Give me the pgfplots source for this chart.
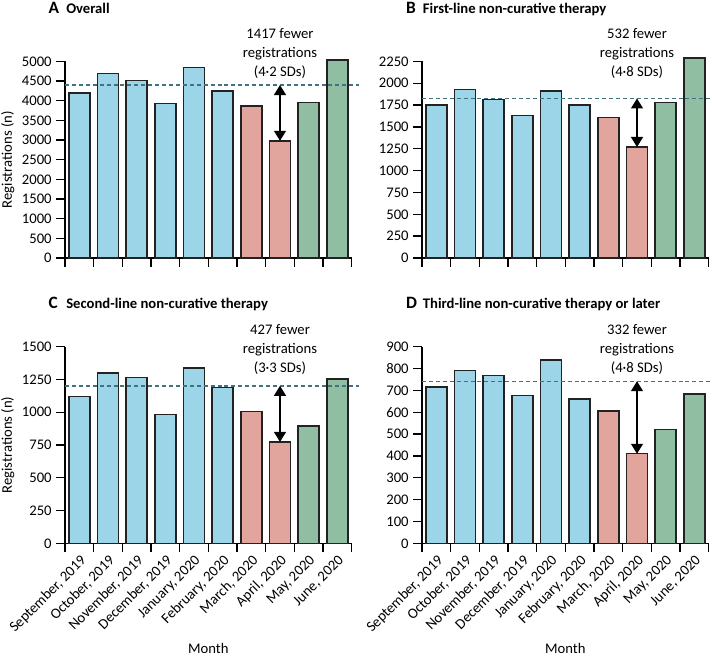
\documentclass[border=0pt]{standalone}
\usepackage{fontspec}
\setmainfont{Carlito}
\usepackage{pgfplots}
\pgfplotsset{compat=1.18}
\usetikzlibrary{arrows.meta}

\definecolor{barblue}{HTML}{9DD5E8}
\definecolor{barpink}{HTML}{E2A59E}
\definecolor{bargreen}{HTML}{90BEA2}
\definecolor{meanline}{HTML}{41727F}
\definecolor{edge}{HTML}{222222}

\tikzset{note/.style={align=center, font=\fontsize{11}{14.25}\selectfont}}

\pgfplotsset{
  panel/.style={
    scale only axis, width=215pt, height=147.5pt,
    anchor=south west,
    axis x line*=bottom, axis y line*=left,
    axis line style={-, line width=1pt, black},
    xmin=-0.5, xmax=9.5, ymin=0, enlargelimits=false, clip=false,
    xtick={-0.5,0.5,...,9.5}, x tick label as interval,
    tick align=outside, major tick length=6.5pt,
    tick style={black, line width=1pt},
    font=\fontsize{11}{13}\selectfont,
    /pgf/number format/assume math mode=true,
    /pgf/number format/1000 sep={},
    ylabel style={at={(axis description cs:-0.2,0.5)}, anchor=center},
  },
  months/.style={
    xticklabels={{September, 2019},{October, 2019},{November, 2019},{December, 2019},
      {January, 2020},{February, 2020},{March, 2020},{April, 2020},{May, 2020},{June, 2020}},
    xticklabel style={rotate=45, anchor=north east, inner sep=1pt},
    xlabel=Month,
    xlabel style={at={(axis description cs:0.5,-0.535)}, anchor=center},
  },
  nomonths/.style={xticklabels={}},
  monthbar/.style={ybar, bar width=0.73, bar shift=0pt, draw=edge, line width=1.1pt},
  mean/.style={meanline, line width=1pt, dash pattern=on 3pt off 2.2pt},
  gap/.style={line width=1pt, black, {Triangle[width=9pt,length=7.5pt]}-{Triangle[width=9pt,length=7.5pt]}},
}

\begin{document}
\begin{tikzpicture}
\path[use as bounding box] (0,0) rectangle (534pt,-492pt);

% A Overall
\begin{axis}[panel, nomonths, at={(48.75pt,-193.5pt)},
  ymax=5000, ytick={0,500,...,5000}, ylabel={Registrations (n)}]
\addplot[monthbar, fill=barblue] coordinates {(0,4190) (1,4690) (2,4510) (3,3930) (4,4840) (5,4250)};
\addplot[monthbar, fill=barpink] coordinates {(6,3860) (7,2980)};
\addplot[monthbar, fill=bargreen] coordinates {(8,3960) (9,5030)};
\addplot[mean] coordinates {(-0.5,4397) (9.75,4397)};
\addplot[gap] coordinates {(7,4397) (7,2980)};
\node[note] at (axis cs:7,5204) {1417 fewer\\registrations\\(4·2 SDs)};
\end{axis}

% B First-line
\begin{axis}[panel, nomonths, at={(316.5pt,-193.5pt)},
  ymax=2250, ytick={0,250,...,2250}]
\addplot[monthbar, fill=barblue] coordinates {(0,1750) (1,1925) (2,1815) (3,1630) (4,1910) (5,1750)};
\addplot[monthbar, fill=barpink] coordinates {(6,1610) (7,1270)};
\addplot[monthbar, fill=bargreen] coordinates {(8,1778) (9,2288)};
\addplot[mean] coordinates {(-0.5,1825) (9.7,1825)};
\addplot[gap] coordinates {(7,1825) (7,1270)};
\node[note] at (axis cs:7,2337) {532 fewer\\registrations\\(4·8 SDs)};
\end{axis}

% C Second-line
\begin{axis}[panel, months, at={(48.75pt,-407.5pt)},
  ymax=1500, ytick={0,250,...,1500}, ylabel={Registrations (n)}]
\addplot[monthbar, fill=barblue] coordinates {(0,1121) (1,1300) (2,1265) (3,984) (4,1338) (5,1189)};
\addplot[monthbar, fill=barpink] coordinates {(6,1004) (7,774)};
\addplot[monthbar, fill=bargreen] coordinates {(8,896) (9,1255)};
\addplot[mean] coordinates {(-0.5,1201) (9.75,1201)};
\addplot[gap] coordinates {(7,1201) (7,774)};
\node[note] at (axis cs:7,1475) {427 fewer\\registrations\\(3·3 SDs)};
\end{axis}

% D Third-line or later
\begin{axis}[panel, months, at={(316.5pt,-407.5pt)},
  ymax=900, ytick={0,100,...,900}]
\addplot[monthbar, fill=barblue] coordinates {(0,715) (1,791) (2,768) (3,677) (4,839) (5,660)};
\addplot[monthbar, fill=barpink] coordinates {(6,606) (7,410)};
\addplot[monthbar, fill=bargreen] coordinates {(8,521) (9,684)};
\addplot[mean] coordinates {(-0.5,742) (9.7,742)};
\addplot[gap] coordinates {(7,742) (7,410)};
\node[note] at (axis cs:7,885) {332 fewer\\registrations\\(4·8 SDs)};
\end{axis}

\node[anchor=base west, font=\fontsize{13}{15}\selectfont\bfseries] at (33pt,-10pt) {A};
\node[anchor=base west, inner sep=0pt, font=\fontsize{11}{13}\selectfont\bfseries] at (49.5pt,-10pt) {Overall};
\node[anchor=base west, font=\fontsize{13}{15}\selectfont\bfseries] at (301pt,-10pt) {B};
\node[anchor=base west, inner sep=0pt, font=\fontsize{11}{13}\selectfont\bfseries] at (317pt,-10pt) {First-line non-curative therapy};
\node[anchor=base west, font=\fontsize{13}{15}\selectfont\bfseries] at (33pt,-231pt) {C};
\node[anchor=base west, inner sep=0pt, font=\fontsize{11}{13}\selectfont\bfseries] at (49.5pt,-231pt) {Second-line non-curative therapy};
\node[anchor=base west, font=\fontsize{13}{15}\selectfont\bfseries] at (301pt,-231pt) {D};
\node[anchor=base west, inner sep=0pt, font=\fontsize{11}{13}\selectfont\bfseries] at (317pt,-231pt) {Third-line non-curative therapy or later};
\end{tikzpicture}
\end{document}
